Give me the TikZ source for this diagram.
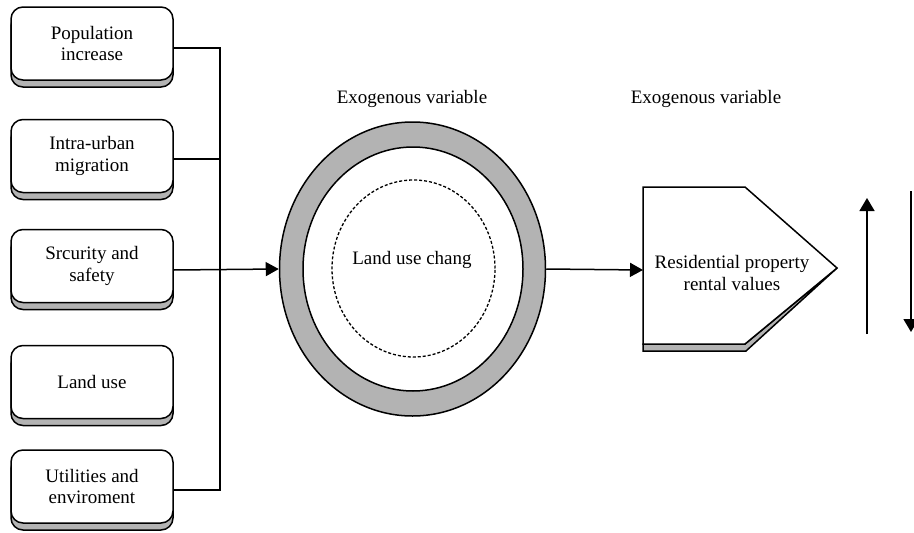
\documentclass[tikz,border=0pt]{standalone}
\usepackage{fontspec}
\setmainfont{Liberation Serif}
\usetikzlibrary{arrows.meta,shapes.geometric,shadows}
\definecolor{shadowgray}{RGB}{179,179,179}
\begin{document}
\begin{tikzpicture}[x=1pt,y=-1pt,
  line width=1.5pt,
  every node/.style={font=\fontsize{19}{21.5}\selectfont},
  factor/.style={draw=black, fill=white, rounded corners=12pt, minimum width=162pt, minimum height=73pt, align=center, inner sep=0pt,
    general shadow={shadow xshift=0pt, shadow yshift=-7pt, fill=shadowgray, draw=black, line width=1.5pt}},
  arr/.style={-{Triangle[length=13pt,width=14pt]}},
  bigarr/.style={-{Triangle[length=13pt,width=15pt]}}]
\useasboundingbox (0,0) rectangle (914,533);
% left factor boxes
\node[factor] (b1) at (92,43.5) {Population\\increase};
\node[factor] (b2) at (92,156) {Intra-urban\\migration};
\node[factor] (b3) at (92,266) {Srcurity and\\safety};
\node[factor] (b4) at (92,382) {Land use};
\node[factor] (b5) at (92,486.5) {Utilities and\\enviroment};
% central ellipses
\node[ellipse, draw=black, fill=shadowgray, minimum width=266pt, minimum height=294pt, inner sep=0pt] (ring) at (412.5,269) {};
\node[ellipse, draw=black, fill=white, minimum width=220pt, minimum height=244pt, inner sep=0pt] (inner) at (413,269) {};
\node[ellipse, draw=black, line width=1.3pt, dash pattern=on 3pt off 2pt, minimum width=163pt, minimum height=177pt, inner sep=0pt] (core) at (413.5,268.5) {};
\node (lu) at (412,260) {Land use chang};
\node (ex1) at (412,99) {Exogenous variable};
\node (ex2) at (706,99) {Exogenous variable};
% bus
\coordinate (bus) at (220,270);
\coordinate (bustop) at (220,48);
\coordinate (busbot) at (220,490);
\draw ([yshift=-4.5pt]b1.east) -- (bustop) -- (busbot) -- ([yshift=-3.5pt]b5.east);
\draw ([yshift=-3pt]b2.east) -| (bustop);
\draw[arr] ([yshift=-4pt]b3.east) -- (ring.west);
% pentagon
\draw[fill=shadowgray] (643,344) -- (643,351) -- (746,351) -- (837,268) -- (745,344) -- cycle;
\draw[fill=white] (643,187) -- (745,187) -- (837,268) -- (745,344) -- (643,344) -- cycle;
\coordinate (resleft) at (643,270);
\node[align=center] (res) at (732,273) {Residential property\\rental values};
\draw[arr] (ring.east) -- (resleft);
% trend arrows
\coordinate (upbot) at (867,334);
\coordinate (uptop) at (867,198);
\coordinate (dntop) at (911,191);
\coordinate (dnbot) at (911,332);
\draw[bigarr] (upbot) -- (uptop);
\draw[bigarr] (dntop) -- (dnbot);
\end{tikzpicture}
\end{document}
